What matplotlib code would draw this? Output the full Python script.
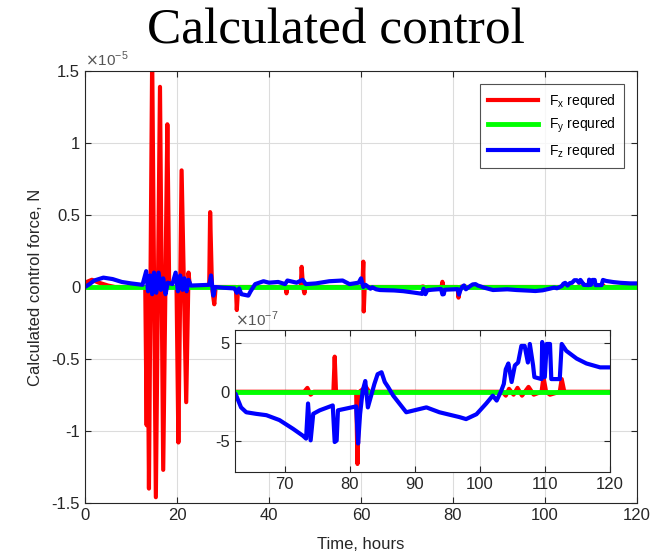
import matplotlib
matplotlib.use('Agg')
import matplotlib.pyplot as plt
from matplotlib.ticker import FuncFormatter

plt.rcParams['font.family'] = ['Liberation Sans', 'DejaVu Sans']

# values in units of 1e-7 N, time in hours
fxT = [0, 1.5, 3, 5, 6.5, 13.1, 13.4, 13.6, 13.9, 14.6, 15.4, 16.3, 17.0, 17.9, 18.3,
       19.9, 20.3, 21.0, 22.0, 22.5, 22.8, 27.0, 27.2, 27.6, 28.1, 28.4, 32.8, 33.0, 33.3,
       43.6, 43.8, 44.0, 46.9, 47.1, 47.4, 47.7, 47.9, 60.3, 60.5, 60.6, 60.8,
       73.0, 73.5, 74.0, 74.5, 77.5, 77.7, 77.9, 81.0, 81.2, 81.5, 82.5, 83.0,
       103.5, 104.0, 104.5, 105.2, 105.8, 106.5, 107.5, 108.3, 109.5, 109.8, 110.2,
       110.8, 112.3, 112.6, 113.0, 120]
fxV = [3, 5, 3, 1, 0, 0, -96, 0, -140, 160, -146, 139, -127, 113, 0,
       0, -108, 81, -80, 10, 0, 0, 52, 0, -12, 0, 0, -16, 0,
       0, -4.4, 0, 0, 14, 0, -4.4, 0, 0, 17.6, -17, 0,
       0, 0.4, -0.3, 0, 0, 3.6, 0, 0, -7.4, 0, 0.5, 0,
       0, -0.4, 0.3, -0.3, 0.4, -0.4, 0.5, -0.3, 0, 1.5, 0,
       -0.3, 0, 1.3, 0, 0]

fyT = [0, 120]
fyV = [0, 0]

fzT = [0, 1, 2, 4, 6, 8, 10, 12.5, 13.3, 13.7, 14.2, 14.6, 15.0, 15.5, 16.0, 16.5, 17.0,
       17.5, 18.0, 19.0, 19.7, 20.2, 20.7, 21.2, 21.6, 22.1, 22.5, 23.0, 27.0, 27.4, 27.9,
       28.3, 30.0, 32.5, 33.0, 33.5, 34.0, 35.5, 36.0, 37.0, 38.8, 40.0, 42.0, 43.5, 44.0,
       46.0, 47.3, 48.0, 50.2, 53.1, 56.0, 57.5, 59.5, 60.0, 60.5, 61.0,
       62.05, 62.45, 63.3, 64.1, 65.6, 67.2, 69.2, 71.3, 72.8, 73.3, 73.6, 74.0, 74.4,
       75.4, 77.4, 77.7, 78.0, 78.2, 81.0, 81.3, 81.6, 82.0, 82.4, 82.8, 83.3, 83.8,
       84.3, 84.9, 85.4, 85.9, 86.7, 88.7, 91.8, 93.8, 96.9, 97.9, 99.5, 101.0, 102.0,
       102.6, 103.3, 103.7, 104.0, 104.4, 104.9, 105.4, 105.9, 106.4, 106.9, 107.4,
       107.7, 108.2, 108.4, 109.5, 109.6, 110.0, 110.3, 110.8, 111.0, 112.3, 112.6,
       113.3, 114.9, 116.4, 118.5, 119.8]
fzV = [0, 2, 4.5, 6.5, 5.5, 3.5, 2.5, 1.5, 11, -3, 8, -5, 10, -4, 10, -2, 6,
       -5, 3, 2, 10, -3, 8, -2, 6, -3, 5, 1, 1.5, 8, -6,
       0, -0.5, -1, -4, -1, -5, -6, -3, 2, 4, 3, 3.5, 2, 4.5,
       3, 5, 2, 2.5, 4, 4.5, 2, 3, 6, 0, 1.5,
       -1.2, -0.2, -1.6, -2.1, -2.26, -2.4, -2.9, -3.8, -4.5, -4.8, -1.2, -4.98, -2.26,
       -1.9, -1.4, -5.15, -5.0, -1.9, -1.5, -5.3, -2.3, 0.1, 1.1, -1.6, -0.4, 0.8,
       1.8, 2.0, 1.0, 0.5, -0.4, -2.1, -1.6, -2.1, -2.6, -2.8, -2.3, -1.2, -0.4,
       -0.9, 0.1, 0.8, 2.3, 2.9, 1.0, 2.7, 3.0, 4.7, 4.7, 3.0,
       4.9, 2.7, 1.5, 1.3, 5.1, 1.5, 4.9, 4.9, 1.3, 1.3, 4.9,
       4.2, 3.4, 2.9, 2.5, 2.5]

labels = [r'F$_\mathregular{x}$ requred', r'F$_\mathregular{y}$ requred', r'F$_\mathregular{z}$ requred']
edge = '#262626'
tickc = '#262626'


def style(ax):
    ax.grid(True, color='#dcdcdc', linewidth=0.8)
    ax.set_axisbelow(True)
    ax.tick_params(direction='in', top=True, right=True, colors=tickc, labelsize=12, length=4)
    for s in ax.spines.values():
        s.set_color(edge)
        s.set_linewidth(0.8)


fig = plt.figure(figsize=(6.72, 5.57), dpi=100)
ax = fig.add_axes([0.1265, 0.097, 0.8214, 0.7755])

sc = 100.0  # 1e-7 -> 1e-5
ax.plot(fxT, [v / sc for v in fxV], color='#ff0000', lw=3, label=labels[0])
ax.plot(fyT, [v / sc for v in fyV], color='#00ff00', lw=3.5, label=labels[1])
ax.plot(fzT, [v / sc for v in fzV], color='#0000ff', lw=3, label=labels[2])
ax.set_xlim(0, 120)
ax.set_ylim(-1.5, 1.5)
ax.set_xticks(range(0, 121, 20))
ax.set_yticks([-1.5, -1, -0.5, 0, 0.5, 1, 1.5])
ax.yaxis.set_major_formatter(FuncFormatter(lambda v, p: '%g' % v))
style(ax)
ax.set_xlabel('Time, hours', fontsize=12, color=tickc, labelpad=10)
ax.set_ylabel('Calculated control force, N', fontsize=12, color=tickc, labelpad=6)
ax.text(0.0, 1.004, r'$\times$10$^{\mathregular{-5}}$', transform=ax.transAxes,
        fontsize=11, color='#555555', ha='left', va='bottom')
leg = ax.legend(loc='upper right', fontsize=10, frameon=True, fancybox=False,
                edgecolor=edge, borderaxespad=0.9, handlelength=3.6,
                labelspacing=0.45, borderpad=0.6)
leg.get_frame().set_linewidth(0.8)

fig.text(0.5, 0.943, 'Calculated control', family='Liberation Serif', fontsize=37,
         ha='center', va='center')

ins = fig.add_axes([0.349, 0.153, 0.5585, 0.254])
ins.plot(fxT, fxV, color='#ff0000', lw=3)
ins.plot(fyT, fyV, color='#00ff00', lw=3.5)
ins.plot(fzT, fzV, color='#0000ff', lw=3)
ins.set_xlim(62.3, 120)
ins.set_ylim(-8.2, 6.3)
ins.set_xticks(range(70, 121, 10))
ins.set_yticks([-5, 0, 5])
ins.yaxis.set_major_formatter(FuncFormatter(lambda v, p: '%g' % v))
style(ins)
ins.text(0.0, 1.01, r'$\times$10$^{\mathregular{-7}}$', transform=ins.transAxes,
         fontsize=11, color='#555555', ha='left', va='bottom')

fig.savefig('out.png', dpi=100)
